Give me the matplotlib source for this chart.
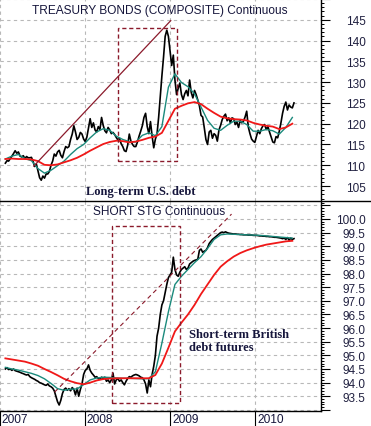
import numpy as np
import pandas as pd
import matplotlib
matplotlib.use("Agg")
import matplotlib.pyplot as plt
import matplotlib.dates as mdates
import matplotlib.transforms as mtransforms
from matplotlib.patches import Rectangle
from matplotlib.ticker import MultipleLocator

# ---------------------------------------------------------
# data (weekly closes + moving averages)
# ---------------------------------------------------------
start = "2007-01-24"
weeks = pd.date_range(start, periods=178, freq="7D")
ma_dates = pd.date_range(start, periods=45, freq="28D")

bonds = [
    110.5, 111.1, 111.0, 111.6, 112.2, 112.8, 113.5, 112.9, 113.2, 112.2,
    112.0, 112.3, 111.6, 112.1, 111.8, 111.8, 111.9, 110.9, 109.7, 110.3,
    108.7, 107.0, 106.4, 107.4, 106.9, 107.9, 107.9, 108.5, 110.0, 111.0,
    112.7, 112.2, 113.2, 113.6, 112.4, 111.8, 113.3, 114.5, 114.2, 114.5,
    116.2, 117.5, 119.5, 118.0, 116.2, 116.7, 117.9, 117.5, 116.3, 115.7,
    116.8, 119.0, 121.2, 119.1, 120.2, 118.5, 118.0, 119.3, 118.6, 121.5,
    119.6, 118.3, 117.8, 119.1, 118.5, 117.6, 117.9, 117.4, 116.7, 116.1,
    116.5, 115.2, 114.5, 113.5, 113.3, 114.8, 117.5, 115.8, 115.0, 114.5,
    114.5, 115.6, 117.0, 118.2, 119.5, 121.5, 122.5, 119.3, 117.6, 120.5,
    117.0, 114.2, 116.3, 117.5, 121.5, 126.5, 131.5, 136.0, 141.0, 142.5,
    141.0, 137.5, 134.0, 136.5, 130.5, 127.0, 128.5, 129.8, 127.0, 125.8,
    127.2, 128.0, 126.7, 130.5, 127.5, 126.2, 128.0, 127.0, 125.7, 124.3,
    122.0, 121.6, 119.0, 116.2, 115.0, 118.0, 118.4, 116.5, 117.6, 117.2,
    115.8, 118.5, 119.6, 121.0, 121.8, 122.3, 120.7, 121.4, 120.2, 121.4,
    121.2, 119.8, 120.4, 119.1, 120.8, 120.2, 120.6, 121.6, 123.0, 119.2,
    117.6, 116.3, 115.8, 115.5, 117.0, 118.4, 117.6, 118.8, 119.5, 119.8,
    118.6, 119.3, 118.0, 116.8, 115.6, 115.4, 116.9, 116.6, 118.2, 120.2,
    122.5, 124.2, 125.2, 123.3, 124.5, 124.0, 123.8, 125.0,
]
bonds_fast = [
    111.5, 112.2, 112.6, 111.6, 111.1, 109.2, 108.1, 108.8, 109.9, 111.0,
    112.6, 114.0, 115.0, 116.6, 118.0, 118.8, 118.4, 117.0, 116.2, 115.7,
    115.6, 117.2, 117.8, 117.1, 119.3, 128.8, 132.0, 129.9, 128.9, 127.2,
    124.0, 120.8, 118.9, 118.4, 119.6, 120.6, 120.6, 119.8, 118.2, 118.2,
    118.6, 118.3, 117.5, 119.1, 121.5,
]
bonds_slow = [
    111.5, 111.6, 111.5, 111.5, 111.4, 111.0, 110.1, 110.0, 110.2, 110.7,
    111.2, 111.8, 112.6, 113.5, 114.3, 115.1, 115.6, 115.9, 115.8, 115.5,
    115.7, 116.1, 116.6, 116.9, 117.8, 120.7, 123.6, 124.3, 124.9, 125.2,
    124.7, 123.6, 122.6, 121.7, 121.3, 121.1, 121.0, 120.8, 120.2, 119.8,
    119.5, 119.3, 118.7, 119.1, 120.0,
]

stg = [
    94.50, 94.55, 94.48, 94.50, 94.45, 94.50, 94.44, 94.42, 94.40, 94.38,
    94.35, 94.33, 94.30, 94.28, 94.30, 94.22, 94.18, 94.15, 94.12, 94.08,
    94.05, 94.00, 93.98, 93.95, 93.92, 93.90, 93.95, 93.88, 93.85, 93.80,
    93.70, 93.50, 93.30, 93.18, 93.35, 93.60, 93.75, 93.80, 93.72, 93.78,
    93.70, 93.82, 93.75, 93.55, 93.80, 93.50, 93.75, 93.95, 94.30, 94.45,
    94.50, 94.65, 94.45, 94.35, 94.28, 94.20, 94.22, 94.15, 94.12, 94.20,
    94.15, 94.20, 94.05, 94.10, 94.00, 94.10, 94.35, 93.95, 94.10, 94.15,
    94.05, 94.10, 94.00, 93.92, 94.05, 94.15, 94.22, 94.20, 94.25, 94.28,
    94.30, 94.28, 94.25, 94.20, 94.18, 94.10, 93.95, 93.62, 94.10, 93.85,
    94.30, 94.60, 95.00, 95.70, 96.00, 96.50, 96.85, 97.00, 97.30, 97.60,
    97.85, 97.95, 98.05, 98.60, 98.15, 97.95, 97.90, 98.05, 98.15, 98.20,
    98.25, 98.15, 98.20, 98.35, 98.40, 98.45, 98.48, 98.50, 98.52, 98.85,
    98.90, 98.78, 98.82, 98.85, 98.95, 99.10, 99.18, 99.25, 99.30, 99.35,
    99.40, 99.45, 99.50, 99.52, 99.50, 99.53, 99.50, 99.48, 99.47, 99.46,
    99.45, 99.45, 99.44, 99.44, 99.43, 99.43, 99.42, 99.42, 99.42, 99.41,
    99.41, 99.41, 99.40, 99.40, 99.40, 99.39, 99.38, 99.38, 99.37, 99.37,
    99.36, 99.36, 99.35, 99.35, 99.34, 99.33, 99.33, 99.32, 99.31, 99.30,
    99.28, 99.30, 99.25, 99.32, 99.22, 99.30, 99.25, 99.28,
]
stg_fast = [
    94.56, 94.50, 94.46, 94.40, 94.34, 94.26, 94.14, 93.97, 93.78, 93.72,
    93.76, 93.77, 93.93, 94.10, 94.17, 94.20, 94.19, 94.17, 94.16, 94.16,
    94.15, 94.14, 94.15, 94.40, 95.45, 96.60, 97.60, 97.90, 98.15, 98.40,
    98.62, 98.92, 99.25, 99.42, 99.45, 99.44, 99.43, 99.42, 99.41, 99.40,
    99.38, 99.36, 99.34, 99.32, 99.30,
]
stg_slow = [
    94.89, 94.85, 94.81, 94.77, 94.70, 94.62, 94.50, 94.39, 94.27, 94.14,
    94.05, 93.98, 93.94, 94.00, 94.08, 94.13, 94.15, 94.16, 94.16, 94.16,
    94.16, 94.16, 94.16, 94.28, 94.70, 95.28, 95.88, 96.20, 96.50, 96.85,
    97.25, 97.60, 97.95, 98.25, 98.45, 98.62, 98.75, 98.85, 98.93, 99.00,
    99.06, 99.10, 99.14, 99.18, 99.20,
]

# annotations drawn on the chart (trend lines and boxes)
top_trend_dates = ["2007-05-26", "2009-01-03"]
top_trend_vals = [109.8, 144.8]
bot_trend_dates = ["2007-08-23", "2009-09-21"]
bot_trend_vals = [93.65, 100.18]
top_box = ("2008-05-20", "2009-01-28", 111.1, 143.1)
bot_box = ("2008-04-27", "2009-02-11", 93.25, 99.75)

years = ["2007", "2008", "2009", "2010"]

# ---------------------------------------------------------
# figure
# ---------------------------------------------------------
W, H = 371, 427
fig = plt.figure(figsize=(W / 100, H / 100), dpi=100)
fig.patch.set_facecolor("white")
ax1 = fig.add_axes([0, (H - 202) / H, 321 / W, 202 / H])
ax2 = fig.add_axes([0, (H - 412) / H, 321 / W, 210 / H])

BLACK, TEAL, RED, MAROON = "#000000", "#1b8a7c", "#f01818", "#8b1a2b"
GRID = "#b8b8b8"
TXT = "#16163c"
xmin, xmax = pd.Timestamp("2007-01-24"), pd.Timestamp("2010-10-10")
year_ticks = [pd.Timestamp(y + "-01-01") for y in years]


def style(ax, lo, hi, major, minor):
    ax.set_xlim(xmin, xmax)
    ax.set_ylim(lo, hi)
    for s in ("left", "top", "bottom"):
        ax.spines[s].set_visible(False)
    ax.spines["right"].set_linewidth(1.0)
    ax.yaxis.tick_right()
    ax.yaxis.set_major_locator(MultipleLocator(major))
    ax.yaxis.set_minor_locator(MultipleLocator(minor))
    ax.tick_params(axis="y", which="major", length=6.5, width=0.8, pad=25.5,
                   labelsize=8.5, labelcolor="#202040")
    ax.tick_params(axis="y", which="minor", length=2.5, width=0.7)
    for lab in ax.get_yticklabels():
        lab.set_horizontalalignment("right")
        lab.set_fontfamily("Liberation Sans")
    ax.set_xticks(year_ticks)
    ax.grid(True, which="major", color=GRID, ls=(0, (3, 3)), lw=0.8)
    ax.set_axisbelow(True)


style(ax1, 101.4, 150.0, 5, 1)
style(ax2, 92.96, 100.66, 0.5, 0.1)
ax1.yaxis.set_major_formatter(matplotlib.ticker.FuncFormatter(
    lambda v, p: f"{v:.0f}" if 105 <= v <= 145 else ""))
ax2.yaxis.set_major_formatter(matplotlib.ticker.FuncFormatter(
    lambda v, p: f"{v:.1f}" if 93.4 <= v <= 100.05 else ""))
for ax in (ax1, ax2):
    for lab in ax.get_yticklabels():
        lab.set_horizontalalignment("right")
ax1.tick_params(axis="x", length=0, labelbottom=False)
ax2.tick_params(axis="x", length=11, width=0.8, labelbottom=False)
ax2.spines["bottom"].set_visible(True)
ax2.spines["bottom"].set_linewidth(1.0)

# top panel
ax1.plot(weeks, bonds, color=BLACK, lw=1.2, zorder=3)
ax1.plot(ma_dates, bonds_fast, color=TEAL, lw=1.0, zorder=4)
ax1.plot(ma_dates, bonds_slow, color=RED, lw=1.3, zorder=4)
ax1.plot(pd.to_datetime(top_trend_dates), top_trend_vals, color=MAROON, lw=0.9, zorder=5)
d0, d1, y0, y1 = top_box
x0 = mdates.date2num(pd.Timestamp(d0))
ax1.add_patch(Rectangle((x0, y0), mdates.date2num(pd.Timestamp(d1)) - x0, y1 - y0,
                        fill=False, ec=MAROON, lw=1.0, ls=(0, (3, 2)), zorder=5))
ax1.text(0.497, 0.947, "TREASURY BONDS (COMPOSITE) Continuous", transform=ax1.transAxes,
         ha="center", va="center", fontsize=8.6, color=TXT, family="Liberation Sans")
ax1.text(0.44, 0.05, "Long-term U.S. debt", transform=ax1.transAxes, ha="center",
         va="center", fontsize=9, fontweight="bold", color=TXT, family="Liberation Serif")

# bottom panel
ax2.plot(weeks, stg, color=BLACK, lw=1.2, zorder=3)
ax2.plot(ma_dates, stg_fast, color=TEAL, lw=1.0, zorder=4)
ax2.plot(ma_dates, stg_slow, color=RED, lw=1.3, zorder=4)
ax2.plot(pd.to_datetime(bot_trend_dates), bot_trend_vals, color=MAROON, lw=0.8,
         ls=(0, (4, 3)), zorder=5)
d0, d1, y0, y1 = bot_box
x0 = mdates.date2num(pd.Timestamp(d0))
ax2.add_patch(Rectangle((x0, y0), mdates.date2num(pd.Timestamp(d1)) - x0, y1 - y0,
                        fill=False, ec=MAROON, lw=1.0, ls=(0, (3, 2)), zorder=5))
ax2.text(0.497, 0.95, "SHORT STG Continuous", transform=ax2.transAxes, ha="center",
         va="center", fontsize=8.6, color=TXT, family="Liberation Sans", zorder=6)
ax2.text(0.59, 0.335, "Short-term British\ndebt futures", transform=ax2.transAxes,
         ha="left", va="center", fontsize=9, fontweight="bold", color=TXT,
         family="Liberation Serif", linespacing=1.15)

# year labels under the bottom panel, just right of each tick
trans = mtransforms.blended_transform_factory(ax2.transData, ax2.transAxes)
for y, t in zip(years, year_ticks):
    ax2.text(t + pd.Timedelta(days=8), -0.038, y, transform=trans, ha="left",
             va="center", fontsize=8.6, color=TXT, family="Liberation Sans",
             clip_on=False)

# separator between the panels, across the whole width
fig.add_artist(plt.Line2D([0, 1], [(H - 202) / H] * 2, color="black", lw=1.0,
                          transform=fig.transFigure))

fig.savefig("out.png", dpi=100, facecolor="white")
